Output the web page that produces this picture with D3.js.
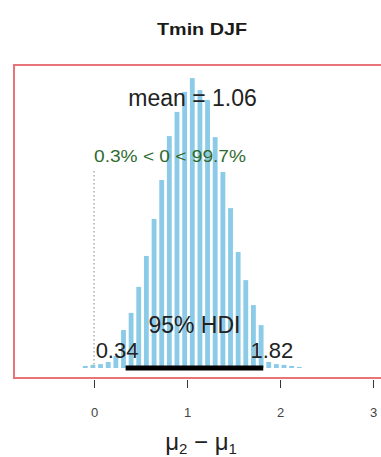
<!DOCTYPE html>
<html>
<head>
<meta charset="utf-8">
<script src="https://cdn.jsdelivr.net/npm/d3@7"></script>
<style>
  html, body { margin: 0; padding: 0; background: #fff; }
  svg { display: block; font-family: "Liberation Sans", Arial, sans-serif; }
</style>
</head>
<body>
<svg id="chart" width="381" height="457"></svg>
<script>
// ---- data ----
const title = "Tmin DJF";
const binCenters = [-0.094, -0.012, 0.070, 0.153, 0.235, 0.317, 0.399, 0.481, 0.563, 0.646,
  0.728, 0.810, 0.892, 0.975, 1.057, 1.139, 1.221, 1.303, 1.386, 1.468,
  1.550, 1.632, 1.714, 1.797, 1.879, 1.961, 2.043, 2.125, 2.208];
const binDensity = [0.008, 0.012, 0.015, 0.023, 0.046, 0.146, 0.212, 0.312, 0.431, 0.573,
  0.723, 0.892, 0.985, 1.062, 1.115, 1.069, 1.031, 0.888, 0.754, 0.615,
  0.446, 0.338, 0.242, 0.165, 0.023, 0.015, 0.012, 0.008, 0.004];
const binWidth = 0.0822;
const meanValue = 1.06;
const hdiLow = 0.34;
const hdiHigh = 1.82;
const compValue = 0;
const pctBelow = "0.3%";
const pctAbove = "99.7%";
const xTicks = [0, 1, 2, 3];

// ---- layout ----
const svg = d3.select("#chart");
const x = d3.scaleLinear().domain([0, 3]).range([94, 373]);
const y = d3.scaleLinear().domain([0, 1.2]).range([368, 56]);

// plot box
svg.append("rect")
  .attr("x", 14).attr("y", 65).attr("width", 376).attr("height", 313)
  .attr("fill", "none").attr("stroke", "#e8747a").attr("stroke-width", 2);

// title
svg.append("text")
  .attr("x", 202).attr("y", 35).attr("text-anchor", "middle")
  .attr("font-weight", "bold").attr("font-size", 17).attr("fill", "#1a1a1a")
  .attr("textLength", 90).attr("lengthAdjust", "spacingAndGlyphs")
  .text(title);

// bars
const gap = 2.8;
svg.append("g").selectAll("rect").data(binCenters).join("rect")
  .attr("x", (c) => x(c - binWidth / 2) + gap / 2)
  .attr("width", (c) => x(c + binWidth / 2) - x(c - binWidth / 2) - gap)
  .attr("y", (c, i) => y(binDensity[i]))
  .attr("height", (c, i) => y(0) - y(binDensity[i]))
  .attr("fill", "#8ccbe8");

// comparison line
svg.append("line")
  .attr("x1", x(compValue)).attr("x2", x(compValue))
  .attr("y1", 171).attr("y2", y(0) - 2)
  .attr("stroke", "#7a8a7a").attr("stroke-width", 1).attr("stroke-dasharray", "1.5,2.5");

// mean text
svg.append("text")
  .attr("x", x(meanValue)).attr("y", 106).attr("text-anchor", "middle")
  .attr("font-size", 23).attr("fill", "#222")
  .text("mean = " + meanValue.toFixed(2));

// comparison text
svg.append("text")
  .attr("x", x(compValue)).attr("y", 162).attr("text-anchor", "start")
  .attr("font-size", 16).attr("fill", "#2f6b2f")
  .attr("textLength", 152).attr("lengthAdjust", "spacingAndGlyphs")
  .text(pctBelow + " < " + compValue + " < " + pctAbove);

// HDI bar
svg.append("line")
  .attr("x1", x(hdiLow)).attr("x2", x(hdiHigh))
  .attr("y1", y(0)).attr("y2", y(0))
  .attr("stroke", "#000").attr("stroke-width", 5);

svg.append("text")
  .attr("x", x((hdiLow + hdiHigh) / 2)).attr("y", 333).attr("text-anchor", "middle")
  .attr("font-size", 23).attr("fill", "#222")
  .text("95% HDI");

const lowT = svg.append("text").attr("y", 358).attr("font-size", 22).attr("fill", "#222")
  .text(hdiLow.toFixed(2));
lowT.attr("x", x(hdiLow) - 0.7 * lowT.node().getComputedTextLength());
const highT = svg.append("text").attr("y", 358).attr("font-size", 22).attr("fill", "#222")
  .text(hdiHigh.toFixed(2));
highT.attr("x", x(hdiHigh) - 0.3 * highT.node().getComputedTextLength());

// x axis (ticks only)
const axis = svg.append("g").attr("transform", "translate(0,380)")
  .call(d3.axisBottom(x).tickValues(xTicks).tickSize(8).tickPadding(20).tickFormat(d3.format("d")));
axis.select(".domain").remove();
axis.selectAll("line").attr("stroke", "#333");
axis.selectAll("text").attr("font-size", 13).attr("fill", "#444")
  .attr("font-family", "'Liberation Sans', Arial, sans-serif");

// x label: mu2 - mu1
const xl = svg.append("text").attr("x", 201).attr("y", 450).attr("text-anchor", "middle")
  .attr("font-size", 24).attr("fill", "#222");
xl.append("tspan").text("\u03BC");
xl.append("tspan").attr("font-size", 15).attr("dy", 4).text("2");
xl.append("tspan").attr("dy", -4).text(" \u2212 \u03BC");
xl.append("tspan").attr("font-size", 15).attr("dy", 4).text("1");
</script>
</body>
</html>
